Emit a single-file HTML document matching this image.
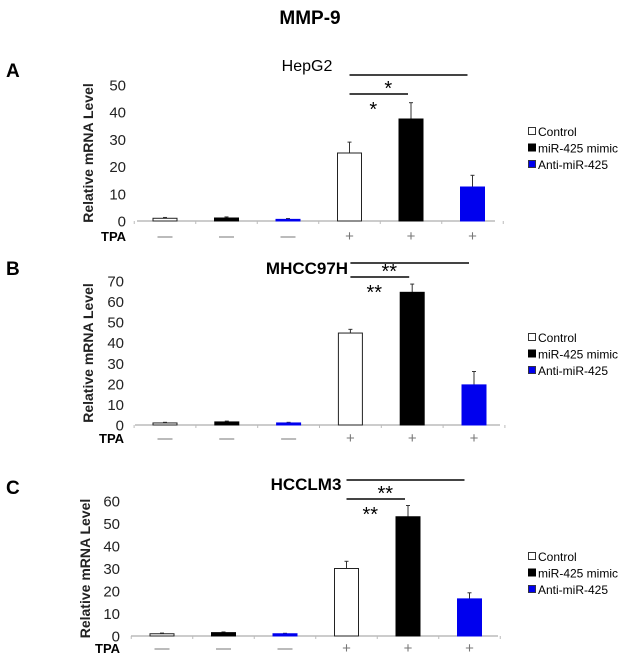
<!DOCTYPE html>
<html><head><meta charset="utf-8"><style>
body{margin:0;background:#fff;}
svg{display:block;font-family:"Liberation Sans",Arial,sans-serif;}
</style></head><body>
<svg id="fig" width="620" height="654" viewBox="0 0 620 654" xmlns="http://www.w3.org/2000/svg">
<text x="310" y="24" font-size="19" font-weight="bold" text-anchor="middle">MMP-9</text>
</svg>
<script>
const groups = ["Control","miR-425 mimic","Anti-miR-425","Control","miR-425 mimic","Anti-miR-425"];
const tpaLabels = ["\u2014","\u2014","\u2014","+","+","+"];
const valuesA = [1.0, 1.1, 0.6, 25, 37.5, 12.5];
const errorsA = [0.3, 0.4, 0.3, 4, 6, 4.3];
const ticksA = [0,10,20,30,40,50];
const valuesB = [1.0, 1.5, 1.0, 44.7, 64.5, 19.5];
const errorsB = [0.3, 0.4, 0.3, 1.8, 4, 6.5];
const ticksB = [0,10,20,30,40,50,60,70];
const valuesC = [1.0, 1.5, 1.0, 30, 53, 16.5];
const errorsC = [0.3, 0.3, 0.2, 3.2, 5, 2.7];
const ticksC = [0,10,20,30,40,50,60];
const fills = ["#ffffff","#000000","#0000ee","#ffffff","#000000","#0000ee"];
const legendLabels = ["Control","miR-425 mimic","Anti-miR-425"];

const NS="http://www.w3.org/2000/svg";
const svg=document.getElementById('fig');
function mk(tag,attrs,parent){const e=document.createElementNS(NS,tag);for(const k in attrs)e.setAttribute(k,attrs[k]);(parent||svg).appendChild(e);return e;}

function panel(cfg){
  const g=mk('g',{});
  
  
  const yScale=v=>cfg.y0-(v/cfg.ymax)*(cfg.y0-cfg.yTop);
  const xScale=i=>cfg.x0c+i*cfg.step;
  const L=mk('text',{x:6,y:cfg.letterY,'font-size':19,'font-weight':'bold'},g);L.textContent=cfg.letter;
  
  
  const T=mk('text',{x:cfg.titleX,y:cfg.titleY,'font-size':cfg.titleBold?17:16,'font-weight':cfg.titleBold?'bold':'normal','text-anchor':'middle'},g);T.textContent=cfg.title;
  
  
  const yt=mk('text',{transform:`translate(${cfg.ytX},${(cfg.y0+cfg.yTop)/2}) rotate(-90)`,'font-size':14,'font-weight':'bold','text-anchor':'middle',fill:'#222'},g);yt.textContent='Relative mRNA Level';
  
  
  cfg.ticks.forEach(t=>{
    const tx=mk('text',{x:cfg.axX-11,y:yScale(t)+5.5,'font-size':15,'text-anchor':'end',fill:'#222'},g);tx.textContent=t;
    
    
  });
  const ax=mk('line',{x1:cfg.axX,x2:cfg.axEnd,y1:cfg.y0,y2:cfg.y0,stroke:'#999','stroke-width':1},g);
  
  
  for(let i=0;i<=groups.length;i++){
    const x=xScale(i)-cfg.step/2;
    mk('line',{x1:x,x2:x,y1:cfg.y0,y2:cfg.y0+3,stroke:'#bbb'},g);
  }
  cfg.values.forEach((v,i)=>{
    const cx=xScale(i),w=24,top=yScale(v);
    const et=yScale(v+cfg.errors[i]);
    const el=mk('line',{x1:cx,x2:cx,y1:et,y2:top,stroke:'#333','stroke-width':1},g);
    
    
    mk('line',{x1:cx-2,x2:cx+2,y1:et,y2:et,stroke:'#333'},g);
    const r=mk('rect',{x:cx-w/2,y:top,width:w,height:Math.max(cfg.y0-top,0.8),fill:fills[i],stroke:i%3===0?'#222':fills[i],'stroke-width':1},g);
    
    
    const tp=mk('text',{x:cx,y:cfg.tpaY,'font-size':15,'text-anchor':'middle',fill:'#777'},g);tp.textContent=tpaLabels[i];
    
    
  });
  const tl=mk('text',{x:cfg.axX-36,y:cfg.tpaY,'font-size':13,'font-weight':'bold'},g);tl.textContent='TPA';
  
  
  const s1=mk('line',{x1:xScale(3),x2:xScale(5)-5,y1:cfg.sig1Y,y2:cfg.sig1Y,stroke:'#444','stroke-width':2},g);
  
  
  const s2=mk('line',{x1:xScale(3),x2:xScale(4)-3,y1:cfg.sig2Y,y2:cfg.sig2Y,stroke:'#444','stroke-width':2},g);
  
  
  const st1=mk('text',{x:(xScale(3)+xScale(4))/2+8,y:cfg.sig2Y+1,'font-size':20,'text-anchor':'middle'},g);st1.textContent=cfg.star;
  
  
  const st2=mk('text',{x:(xScale(3)+xScale(4))/2-7,y:cfg.sig2Y+22,'font-size':20,'text-anchor':'middle'},g);st2.textContent=cfg.star;
  
  
  legendLabels.forEach((lab,i)=>{
    const y=cfg.legY+i*16.5;
    const sq=mk('rect',{x:528.5,y:y-8.5,width:7,height:7,fill:fills[i],stroke:i===0?'#333':(i===2?'#334':'#000'),'stroke-width':1},g);
    
    
    const lt=mk('text',{x:538,y:y,'font-size':12},g);lt.textContent=lab;
    
    
  });
}
panel({letter:'A',letterY:77,title:'HepG2',titleX:307,titleY:71,titleBold:false,ytX:93,y0:221,yTop:85,ymax:50,ticks:ticksA,values:valuesA,errors:errorsA,axX:137,axEnd:495,x0c:165,step:61.5,tpaY:241,sig1Y:75,sig2Y:94,star:'*',legY:136});
panel({letter:'B',letterY:275,title:'MHCC97H',titleX:307,titleY:274,titleBold:true,ytX:93,y0:425,yTop:281,ymax:70,ticks:ticksB,values:valuesB,errors:errorsB,axX:135,axEnd:500,x0c:165,step:61.8,tpaY:443,sig1Y:263,sig2Y:277,star:'**',legY:342});
panel({letter:'C',letterY:494,title:'HCCLM3',titleX:306,titleY:490,titleBold:true,ytX:90,y0:636,yTop:501,ymax:60,ticks:ticksC,values:valuesC,errors:errorsC,axX:131,axEnd:498,x0c:162,step:61.5,tpaY:653,sig1Y:480,sig2Y:499,star:'**',legY:561});
</script>
</body></html>
